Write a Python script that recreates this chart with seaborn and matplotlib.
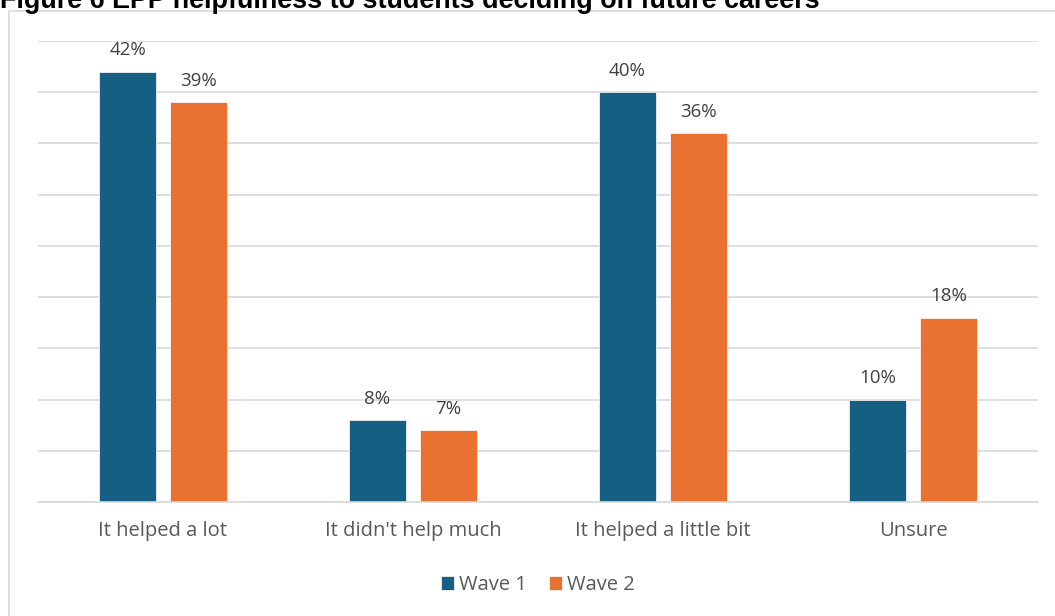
import matplotlib
matplotlib.use("Agg")
import matplotlib.pyplot as plt
from matplotlib.patches import Rectangle
from matplotlib.ticker import MultipleLocator
import seaborn as sns
import pandas as pd

categories = ["It helped a lot", "It didn't help much", "It helped a little bit", "Unsure"]
wave1 = [42, 8, 40, 10]
wave2 = [39, 7, 36, 18]
series_names = ["Wave 1", "Wave 2"]
colors = ["#156082", "#E97132"]

df = pd.DataFrame({
    "category": categories * 2,
    "value": wave1 + wave2,
    "wave": [series_names[0]] * len(categories) + [series_names[1]] * len(categories),
})

sns.set_theme(style="white")
plt.rcParams["font.family"] = ["Open Sans", "DejaVu Sans"]

fig = plt.figure(figsize=(10.55, 6.16), dpi=100)
W, H = 1055, 616
ax = fig.add_axes([38 / W, 1 - 502 / H, 1000 / W, 461 / H])

sns.barplot(data=df, x="category", y="value", hue="wave", palette=colors,
            order=categories, hue_order=series_names, width=0.568, saturation=1,
            dodge=True, gap=0.21, ax=ax, edgecolor="white", linewidth=0.5)

ax.set_ylim(0, 45)
ax.set_xlim(-0.5, len(categories) - 0.5)
ax.yaxis.set_major_locator(MultipleLocator(5))
ax.grid(axis="y", color="#D9D9D9", linewidth=1.2)
ax.set_axisbelow(True)
for s in ["top", "right", "left"]:
    ax.spines[s].set_visible(False)
ax.spines["bottom"].set_color("#D9D9D9")
ax.spines["bottom"].set_linewidth(1.2)
ax.set_yticklabels([])
ax.tick_params(axis="y", length=0)
ax.tick_params(axis="x", length=0, pad=14, labelsize=14.5, labelcolor="#595959")
ax.set_xlabel("")
ax.set_ylabel("")

for container in ax.containers:
    ax.bar_label(container, fmt="%d%%", padding=9, fontsize=13.5, color="#404040")

leg = ax.legend(loc="center", bbox_to_anchor=(0.5, -0.18), ncol=2, frameon=False,
                fontsize=14.5, handlelength=0.65, handleheight=0.65, handletextpad=0.25,
                columnspacing=1.1)
for t in leg.get_texts():
    t.set_color("#595959")

# chart frame
fig.patches.append(Rectangle((9 / W, -0.02), 1.1, 1 - 11 / H + 0.02, transform=fig.transFigure,
                             fill=False, edgecolor="#D9D9D9", linewidth=1.2, zorder=0))

fig.text(0.0, 1 - 7.5 / H, "Figure 6 EPP helpfulness to students deciding on future careers",
         fontsize=19.4, fontweight="bold", family=["Liberation Sans", "DejaVu Sans"],
         color="black", ha="left", va="baseline")

fig.savefig("out.png", dpi=100, facecolor="white")
